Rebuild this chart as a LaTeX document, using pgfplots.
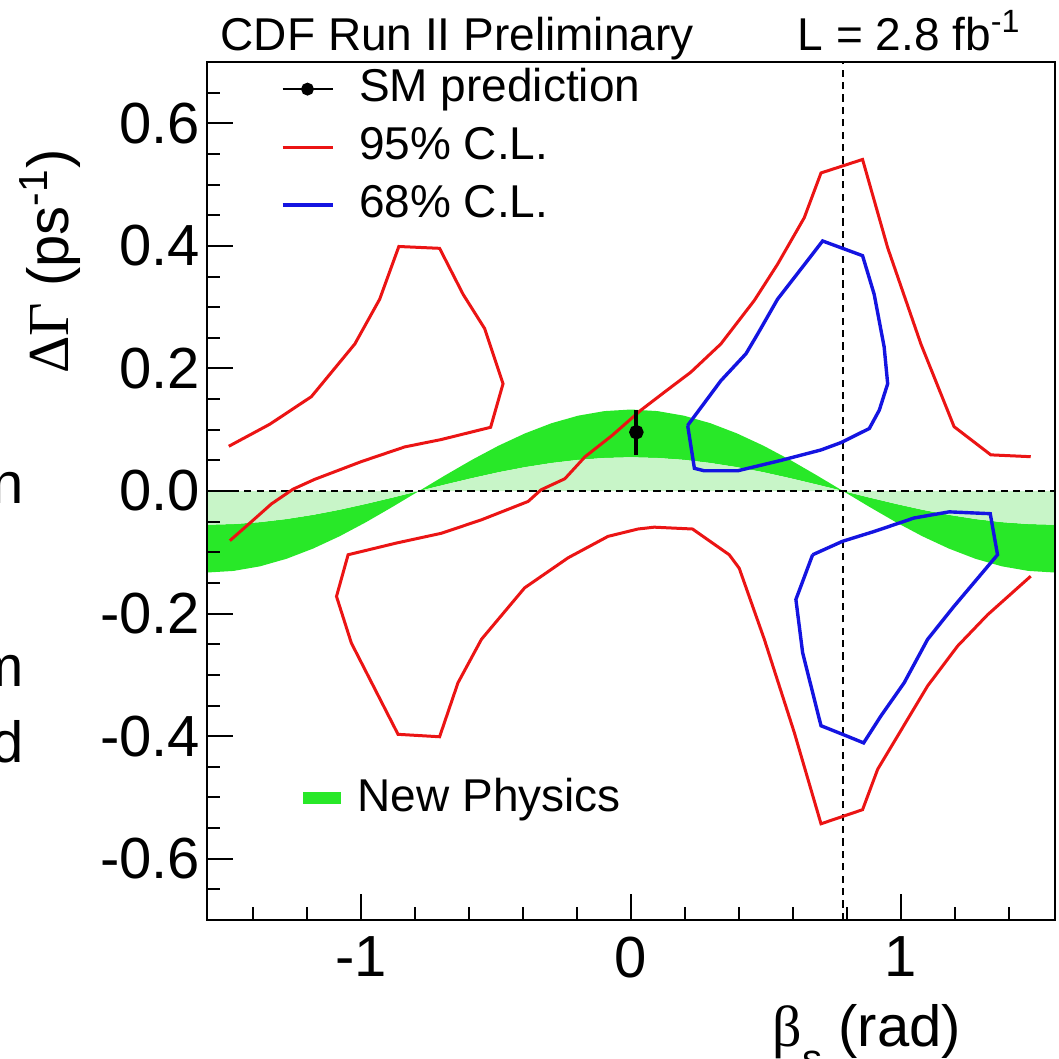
\documentclass[border=0pt]{standalone}
\usepackage{pgfplots}
\pgfplotsset{compat=1.18}
\usepgfplotslibrary{fillbetween}
\usepackage{pgfplotstable}
\usepackage{fontspec}
\setmainfont{Liberation Sans}
\newfontfamily\symfont{Liberation Serif}
\definecolor{npgreen}{RGB}{40,232,40}
\definecolor{nplight}{RGB}{200,245,200}
\definecolor{clred}{RGB}{235,20,20}
\definecolor{clblue}{RGB}{20,20,225}

\pgfplotstableread{
b o i z
-1.5708 -0.1330 -0.0550 0
-1.4726 -0.1304 -0.0539 0
-1.3744 -0.1229 -0.0508 0
-1.2763 -0.1106 -0.0457 0
-1.1781 -0.0940 -0.0389 0
-1.0799 -0.0739 -0.0306 0
-0.9817 -0.0509 -0.0210 0
-0.8836 -0.0259 -0.0107 0
-0.7854 0 0 0
-0.6872 0.0259 0.0107 0
-0.5890 0.0509 0.0210 0
-0.4909 0.0739 0.0306 0
-0.3927 0.0940 0.0389 0
-0.2945 0.1106 0.0457 0
-0.1963 0.1229 0.0508 0
-0.0982 0.1304 0.0539 0
0 0.1330 0.0550 0
0.0982 0.1304 0.0539 0
0.1963 0.1229 0.0508 0
0.2945 0.1106 0.0457 0
0.3927 0.0940 0.0389 0
0.4909 0.0739 0.0306 0
0.5890 0.0509 0.0210 0
0.6872 0.0259 0.0107 0
0.7854 0 0 0
0.8836 -0.0259 -0.0107 0
0.9817 -0.0509 -0.0210 0
1.0799 -0.0739 -0.0306 0
1.1781 -0.0940 -0.0389 0
1.2763 -0.1106 -0.0457 0
1.3744 -0.1229 -0.0508 0
1.4726 -0.1304 -0.0539 0
1.5708 -0.1330 -0.0550 0
}\band

\begin{document}
\begin{tikzpicture}
\begin{axis}[
  scale only axis, width=212pt, height=214.5pt,
  xmin=-1.5708, xmax=1.5708, ymin=-0.7, ymax=0.7,
  clip=false, axis on top,
  axis line style={line width=0.65pt},
  tick align=inside, xtick pos=lower, ytick pos=lower,
  major tick length=6.5pt, minor tick length=3.25pt,
  tick style={black, line width=0.5pt},
  xtick={-1,0,1}, xticklabels={-1,0,1},
  minor xtick={-1.4,-1.2,-0.8,-0.6,-0.4,-0.2,0.2,0.4,0.6,0.8,1.2,1.4},
  ytick={-0.6,-0.4,-0.2,0,0.2,0.4,0.6},
  yticklabels={-0.6,-0.4,-0.2,0.0,0.2,0.4,0.6},
  minor ytick={-0.65,-0.55,-0.5,-0.45,-0.35,-0.3,-0.25,-0.15,-0.1,-0.05,0.05,0.1,0.15,0.25,0.3,0.35,0.45,0.5,0.55,0.65},
  ticklabel style={font=\fontsize{14.5}{17}\selectfont},
  yticklabel style={inner xsep=1.5pt},
  xticklabel style={inner ysep=4pt},
  legend style={at={(rel axis cs:0.0861,0.995)}, anchor=north west, draw=none, fill=none,
    font=\fontsize{11.5}{13}\selectfont, inner sep=0pt, row sep=3.5pt,
    nodes={inner sep=0pt, text height=8.5pt, text depth=2.5pt},
    /tikz/every odd column/.append style={column sep=6.25pt}},
  legend cell align=left,
  legend image code/.code={\draw[mark repeat=2, mark phase=2, #1] plot coordinates {(0pt,0pt) (6.25pt,0pt) (12.5pt,0pt)};},
]
% New Physics band
\addplot[draw=none, name path=bo, forget plot] table[x=b, y=o]{\band};
\addplot[draw=none, name path=bi, forget plot] table[x=b, y=i]{\band};
\addplot[draw=none, name path=bz, forget plot] table[x=b, y=z]{\band};
\addplot[npgreen, forget plot] fill between[of=bo and bi];
\addplot[nplight, forget plot] fill between[of=bi and bz];
% reference lines
\addplot[black, line width=0.5pt, dash pattern=on 1.8pt off 1.3pt, forget plot] coordinates {(-1.5708,0) (1.5708,0)};
\addplot[black, line width=0.5pt, dash pattern=on 1.8pt off 1.3pt, forget plot] coordinates {(0.7854,-0.7) (0.7854,0.7)};
% 95% CL contours
\addplot[clred, line width=0.75pt, forget plot] coordinates {
(-1.490,0.073) (-1.338,0.109) (-1.184,0.154) (-1.023,0.240) (-0.931,0.313) (-0.860,0.399)
(-0.709,0.396) (-0.622,0.321) (-0.542,0.265) (-0.474,0.175) (-0.520,0.104) (-0.703,0.084)
(-0.838,0.072) (-0.999,0.048) (-1.172,0.019) (-1.252,0.003) (-1.332,-0.021) (-1.406,-0.050) (-1.486,-0.081)};
\addplot[clred, line width=0.75pt, forget plot] coordinates {
(1.481,0.056) (1.333,0.059) (1.197,0.105) (1.074,0.240) (0.951,0.397) (0.858,0.541) (0.704,0.519)
(0.642,0.446) (0.543,0.370) (0.457,0.311) (0.333,0.240) (0.222,0.194) (0.123,0.161) (0.037,0.132)
(-0.069,0.091) (-0.170,0.056) (-0.245,0.020) (-0.333,0.002) (-0.381,-0.017) (-0.554,-0.047)
(-0.703,-0.069) (-0.870,-0.085) (-1.048,-0.104) (-1.091,-0.172) (-1.036,-0.248) (-0.863,-0.397)
(-0.709,-0.401) (-0.641,-0.313) (-0.554,-0.242) (-0.394,-0.158) (-0.233,-0.109) (-0.085,-0.074)
(0.026,-0.062) (0.086,-0.059) (0.228,-0.062) (0.364,-0.104) (0.401,-0.126) (0.494,-0.242)
(0.605,-0.394) (0.704,-0.543) (0.858,-0.520) (0.914,-0.454) (1.099,-0.318) (1.210,-0.253)
(1.321,-0.202) (1.481,-0.139)};
% 68% CL contours
\addplot[clblue, line width=0.85pt, forget plot] coordinates {
(0.210,0.107) (0.235,0.037) (0.272,0.033) (0.395,0.033) (0.556,0.050) (0.704,0.067) (0.778,0.079)
(0.883,0.102) (0.920,0.132) (0.951,0.175) (0.938,0.235) (0.901,0.321) (0.858,0.384) (0.710,0.408)
(0.654,0.376) (0.543,0.313) (0.469,0.256) (0.426,0.224) (0.333,0.180) (0.210,0.107)};
\addplot[clblue, line width=0.85pt, forget plot] coordinates {
(0.673,-0.104) (0.611,-0.177) (0.636,-0.264) (0.704,-0.383) (0.784,-0.397) (0.862,-0.411)
(0.926,-0.367) (1.012,-0.313) (1.099,-0.242) (1.197,-0.188) (1.358,-0.104) (1.331,-0.037)
(1.179,-0.034) (1.049,-0.044) (0.901,-0.066) (0.784,-0.082) (0.673,-0.104)};
% SM prediction
\addplot[black, line width=1pt, mark=*, mark size=1.3pt, only marks, forget plot,
  error bars/.cd, y dir=both, y explicit, error mark=none,
  error bar style={line width=1pt}] coordinates {(0.02,0.096) +- (0,0.037)};
% legend
\addlegendimage{black, line width=0.6pt, mark=*, mark size=1.3pt}
\addlegendentry{SM prediction}
\addlegendimage{clred, line width=0.75pt}
\addlegendentry{95\% C.L.}
\addlegendimage{clblue, line width=0.85pt}
\addlegendentry{68\% C.L.}
% anchors for texts
\coordinate (bbSW) at (rel axis cs:-0.2441,-0.1620);
\coordinate (bbNE) at (rel axis cs:1.0047,1.0723);
\coordinate (tt1) at (rel axis cs:0.0153,1.0140);
\coordinate (tt2) at (rel axis cs:0.6958,1.0140);
\coordinate (xl) at (rel axis cs:0.890,-0.1469);
\coordinate (yl) at (rel axis cs:-0.1639,0.8998);
\coordinate (cn) at (rel axis cs:-0.2146,0.4860);
\coordinate (cm) at (rel axis cs:-0.2146,0.2716);
\coordinate (cd) at (rel axis cs:-0.2146,0.1830);
\end{axis}
\begin{axis}[
  scale only axis, width=212pt, height=214.5pt,
  xmin=-1.5708, xmax=1.5708, ymin=-0.7, ymax=0.7, hide axis,
  legend style={at={(rel axis cs:0.105,0.1422)}, anchor=west, draw=none, fill=none,
    font=\fontsize{11.5}{13}\selectfont, inner sep=0pt,
    nodes={inner sep=0pt},
    /tikz/every odd column/.append style={column sep=2.5pt}},
  legend image code/.code={\draw[#1] (0pt,0pt) -- (9.5pt,0pt);},
]
\addlegendimage{npgreen, line width=3.2pt}
\addlegendentry{New Physics}
\end{axis}
\node[anchor=base west, inner sep=0pt, font=\fontsize{11.5}{13}\selectfont] at (tt1) {CDF Run II Preliminary};
\node[anchor=base west, inner sep=0pt, font=\fontsize{11.5}{13}\selectfont] at (tt2) {L = 2.8 fb\textsuperscript{-1}};
\node[anchor=base east, inner sep=0pt, font=\fontsize{14.5}{17}\selectfont] at (xl) {{\symfont β}\raisebox{-0.45em}{\fontsize{10}{12}\selectfont s} (rad)};
\node[anchor=base east, rotate=90, inner sep=0pt, font=\fontsize{14.5}{17}\selectfont] at (yl) {{\symfont ΔΓ} (ps\textsuperscript{-1})};
\node[anchor=base east, inner sep=0pt, font=\fontsize{14.5}{17}\selectfont] at (cn) {n};
\node[anchor=base east, inner sep=0pt, font=\fontsize{14.5}{17}\selectfont] at (cm) {m};
\node[anchor=base east, inner sep=0pt, font=\fontsize{14.5}{17}\selectfont] at (cd) {d};
\pgfresetboundingbox
\useasboundingbox (bbSW) rectangle (bbNE);
\end{tikzpicture}
\end{document}
